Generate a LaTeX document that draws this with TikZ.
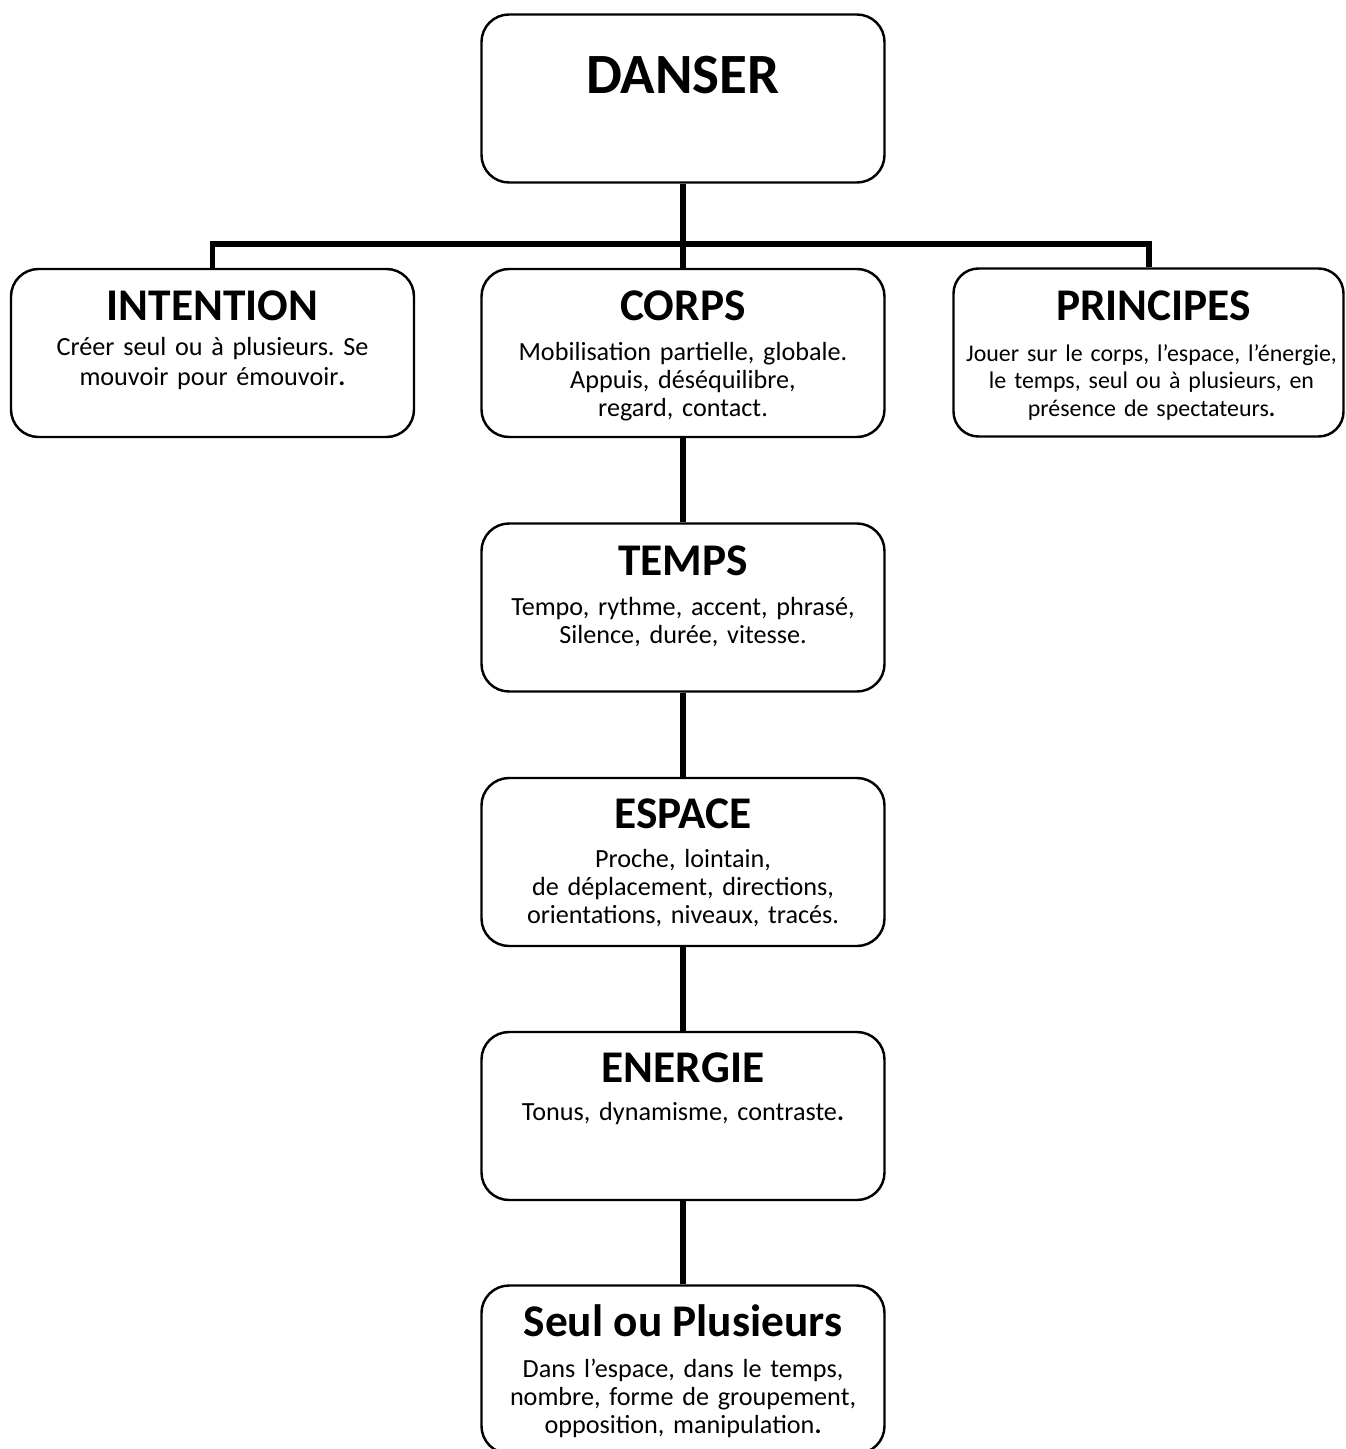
\documentclass[tikz,border=0pt]{standalone}
\usepackage{fontspec}
\setmainfont{Carlito}
\frenchspacing

\begin{document}
\begin{tikzpicture}[
  boite/.style={draw,rounded corners=0.55cm,line width=1.4pt,minimum width=8.06cm,minimum height=3.36cm},
  titre/.style={anchor=base,inner sep=0pt,font=\bfseries\fontsize{25.8}{31}\selectfont},
  texte/.style={anchor=base,inner sep=0pt,text width=8cm,align=center,font=\fontsize{14.9}{16.2}\selectfont},
  lien/.style={line width=3.4pt}]
  \useasboundingbox (0,0) rectangle (26.9,-28.98);
  \clip (0,0) rectangle (26.9,-28.98);
  % boites
  \node[boite] (danser) at (13.66,-1.97) {};
  \node[boite] (intention) at (4.25,-7.06) {};
  \node[boite] (corps) at (13.66,-7.06) {};
  \node[boite,minimum width=7.8cm,rounded corners=0.5cm] (principes) at (22.97,-7.05) {};
  \node[boite] (temps) at (13.66,-12.15) {};
  \node[boite] (espace) at (13.66,-17.24) {};
  \node[boite] (energie) at (13.66,-22.32) {};
  \node[boite] (seul) at (13.66,-27.39) {};
  % liens
  \coordinate (barre) at (13.66,-4.88);
  \draw[lien] (danser.south) -- (corps.north);
  \draw[lien] (intention.north) |- (barre) -| (principes.north);
  \foreach \a/\b in {corps/temps,temps/espace,espace/energie,energie/seul}
    \draw[lien] (\a.south) -- (\b.north);
  % textes
  \node[titre,font=\bfseries\fontsize{32.4}{38}\selectfont] (danser-t) at (13.66,-1.86) {DANSER};
  \node[titre] (intention-t) at (4.25,-6.40) {INTENTION};
  \node[texte,font=\fontsize{14.9}{17.6}\selectfont] (intention-d) at (4.25,-7.10)
    {Créer seul ou à plusieurs. Se\\ mouvoir pour émouvoir{\bfseries .}};
  \node[titre] (corps-t) at (13.66,-6.40) {CORPS};
  \node[texte] (corps-d) at (13.66,-7.20)
    {Mobilisation partielle, globale.\\ Appuis, déséquilibre,\\ regard, contact.};
  \node[titre] (principes-t) at (23.07,-6.40) {PRINCIPES};
  \node[texte,font=\fontsize{13.6}{15.9}\selectfont] (principes-d) at (23.03,-7.22)
    {Jouer sur le corps, l’espace, l’énergie,\\ le temps, seul ou à plusieurs, en\\ présence de spectateurs{\bfseries .}};
  \node[titre] (temps-t) at (13.66,-11.50) {TEMPS};
  \node[texte] (temps-d) at (13.66,-12.30)
    {Tempo, rythme, accent, phrasé,\\ Silence, durée, vitesse.};
  \node[titre] (espace-t) at (13.66,-16.56) {ESPACE};
  \node[texte] (espace-d) at (13.66,-17.34)
    {Proche, lointain,\\ de déplacement, directions,\\ orientations, niveaux, tracés.};
  \node[titre] (energie-t) at (13.66,-21.64) {ENERGIE};
  \node[texte] (energie-d) at (13.66,-22.40)
    {Tonus, dynamisme, contraste{\bfseries .}};
  \node[titre] (seul-t) at (13.66,-26.72) {Seul ou Plusieurs};
  \node[texte] (seul-d) at (13.66,-27.54)
    {Dans l’espace, dans le temps,\\ nombre, forme de groupement,\\ opposition, manipulation{\bfseries .}};
\end{tikzpicture}
\end{document}
